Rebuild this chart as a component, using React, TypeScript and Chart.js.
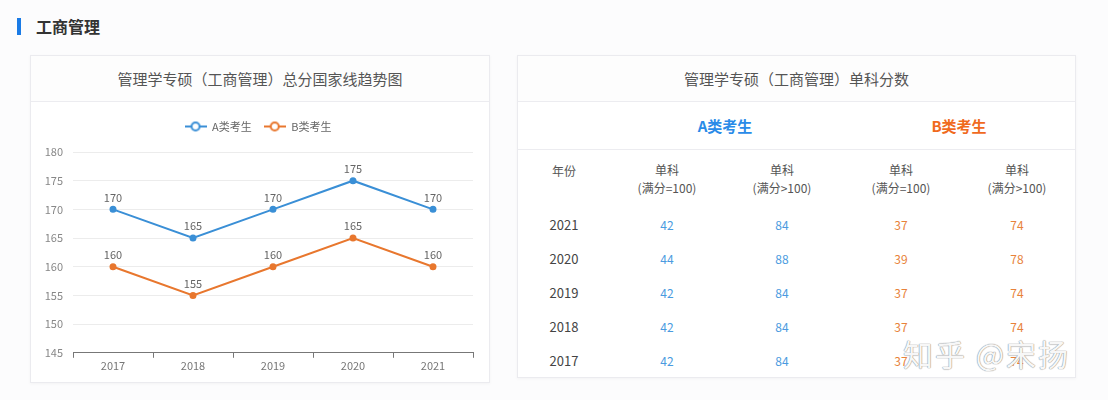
import React, { useEffect, useRef } from "react";
import { Chart, registerables } from "chart.js";

Chart.register(...registerables);

// ---------- data ----------
const years = ["2017", "2018", "2019", "2020", "2021"];
const scoreA = [170, 165, 170, 175, 170];
const scoreB = [160, 155, 160, 165, 160];
const seriesNames = ["A类考生", "B类考生"];
const yMin = 145;
const yMax = 180;
const yStep = 5;

const tableYears = ["2021", "2020", "2019", "2018", "2017"];
const aSingle100 = [42, 44, 42, 42, 42];
const aSingleOver100 = [84, 88, 84, 84, 84];
const bSingle100 = [37, 39, 37, 37, 37];
const bSingleOver100 = [74, 78, 74, 74, 74];
const tableHeaders = ["年份", "单科\n(满分=100)", "单科\n(满分>100)", "单科\n(满分=100)", "单科\n(满分>100)"];

const BLUE = "#3a8fd6";
const ORANGE = "#e8772e";
const FONT = '"Noto Sans CJK SC", "Noto Sans", sans-serif';

function legendIcon(color: string) {
  const c = document.createElement("canvas");
  c.width = 22;
  c.height = 12;
  const ctx = c.getContext("2d")!;
  ctx.strokeStyle = color;
  ctx.lineWidth = 2;
  ctx.beginPath();
  ctx.moveTo(0, 6);
  ctx.lineTo(22, 6);
  ctx.stroke();
  ctx.beginPath();
  ctx.arc(11, 6, 4, 0, Math.PI * 2);
  ctx.fillStyle = "#fff";
  ctx.fill();
  ctx.stroke();
  return c;
}

const valueLabels = {
  id: "valueLabels",
  afterDatasetsDraw(chart: any) {
    const ctx = chart.ctx;
    ctx.save();
    ctx.font = `11px ${FONT}`;
    ctx.fillStyle = "#666";
    ctx.textAlign = "center";
    ctx.textBaseline = "middle";
    chart.data.datasets.forEach((ds: any, i: number) => {
      const meta = chart.getDatasetMeta(i);
      meta.data.forEach((pt: any, j: number) => {
        ctx.fillText(String(ds.data[j]), pt.x, pt.y - 12);
      });
    });
    ctx.restore();
  },
};

const legendMargin = {
  id: "legendMargin",
  beforeInit(chart: any) {
    const orig = chart.legend.fit;
    chart.legend.fit = function () {
      orig.bind(chart.legend)();
      this.height += 10;
    };
  },
};

function LineChart() {
  const ref = useRef<HTMLCanvasElement>(null);
  useEffect(() => {
    const icons = [legendIcon(BLUE), legendIcon(ORANGE)];
    const chart = new Chart(ref.current!, {
      type: "line",
      data: {
        labels: years,
        datasets: [
          {
            label: seriesNames[0],
            data: scoreA,
            borderColor: BLUE,
            backgroundColor: BLUE,
            borderWidth: 2,
            pointRadius: 2.5,
            pointHoverRadius: 2.5,
            tension: 0,
          },
          {
            label: seriesNames[1],
            data: scoreB,
            borderColor: ORANGE,
            backgroundColor: ORANGE,
            borderWidth: 2,
            pointRadius: 2.5,
            pointHoverRadius: 2.5,
            tension: 0,
          },
        ],
      },
      options: {
        responsive: false,
        animation: false,
        layout: { padding: { left: 12, right: 16, top: 8, bottom: 11 } },
        plugins: {
          tooltip: { enabled: false },
          legend: {
            position: "top",
            labels: {
              usePointStyle: true,
              pointStyleWidth: 22,
              boxHeight: 12,
              padding: 12,
              color: "#666",
              font: { size: 11, family: FONT },
              generateLabels: (chart: any) => {
                const items = Chart.defaults.plugins.legend.labels.generateLabels(chart);
                return items.map((it: any, i: number) => ({ ...it, pointStyle: icons[i] }));
              },
            },
          },
        },
        scales: {
          x: {
            offset: true,
            grid: {
              display: true,
              drawOnChartArea: false,
              drawTicks: true,
              tickLength: 5,
              offset: true,
              color: "#777",
            },
            border: { display: true, color: "#777", width: 1 },
            ticks: { color: "#777", font: { size: 11, family: FONT }, padding: 1 },
          },
          y: {
            min: yMin,
            max: yMax,
            afterFit: (scale: any) => {
              scale.width = 30;
            },
            ticks: { stepSize: yStep, color: "#888", font: { size: 11, family: FONT }, padding: 10 },
            grid: { color: "#ececec", drawTicks: false },
            border: { display: false },
          },
        },
      },
      plugins: [valueLabels, legendMargin],
    });
    return () => chart.destroy();
  }, []);
  return <canvas ref={ref} width={458} height={283} style={{ display: "block" }} />;
}

const cardStyle: React.CSSProperties = {
  position: "absolute",
  background: "#fff",
  border: "1px solid #ebebef",
  boxShadow: "0 1px 3px rgba(0,0,0,0.04)",
  boxSizing: "border-box",
};

const titleStyle: React.CSSProperties = {
  position: "absolute",
  left: 0,
  right: 0,
  top: 0,
  height: 45,
  lineHeight: "45px",
  textAlign: "center",
  fontSize: 15,
  color: "#555",
  borderBottom: "1px solid #ececf0",
  background: "#fdfdfd",
};

function Cell({ x, y, text, color, size = 13, bold = false }: any) {
  return (
    <div
      style={{
        position: "absolute",
        left: x - 60,
        top: y,
        width: 120,
        textAlign: "center",
        transform: "translateY(-50%)",
        color,
        fontSize: size,
        fontWeight: bold ? 700 : 400,
        whiteSpace: "pre",
        lineHeight: "18px",
      }}
    >
      {text}
    </div>
  );
}

export default function App() {
  // column centers relative to right card
  const colX = [46, 149, 264, 383, 499];
  const rowY = [169, 203, 237, 271, 305];
  const cols = [aSingle100, aSingleOver100, bSingle100, bSingleOver100];
  const colColors = ["#4a9be0", "#4a9be0", "#e8823a", "#e8823a"];
  return (
    <div
      style={{
        position: "fixed",
        left: 0,
        top: 0,
        width: 1108,
        height: 400,
        background: "#fcfcfd",
        fontFamily: FONT,
        overflow: "hidden",
      }}
    >
      <div style={{ position: "absolute", left: 17, top: 18, width: 4, height: 17, background: "#1a7be6" }} />
      <div style={{ position: "absolute", left: 36, top: 15, fontSize: 16, fontWeight: 700, color: "#333", lineHeight: "22px" }}>
        工商管理
      </div>

      <div style={{ ...cardStyle, left: 30, top: 55, width: 460, height: 328 }}>
        <div style={titleStyle}>管理学专硕（工商管理）总分国家线趋势图</div>
        <div style={{ position: "absolute", left: 0, top: 45 }}>
          <LineChart />
        </div>
      </div>

      <div style={{ ...cardStyle, left: 517, top: 55, width: 559, height: 323 }}>
        <div style={titleStyle}>管理学专硕（工商管理）单科分数</div>
        <div style={{ position: "absolute", left: 0, right: 0, top: 45, height: 48, borderBottom: "1px solid #ececf0" }} />
        <Cell x={207} y={70} text={seriesNames[0]} color="#2a8be8" size={15} bold />
        <Cell x={441} y={70} text={seriesNames[1]} color="#f06a1e" size={15} bold />
        {tableHeaders.map((h, i) => (
          <Cell key={"h" + i} x={colX[i]} y={i === 0 ? 115 : 123} text={h} color="#555" size={12} />
        ))}
        {tableYears.map((yr, r) => (
          <React.Fragment key={yr}>
            <Cell x={colX[0]} y={rowY[r]} text={yr} color="#444" size={13} />
            {cols.map((c, k) => (
              <Cell key={k} x={colX[k + 1]} y={rowY[r]} text={String(c[r])} color={colColors[k]} size={12} />
            ))}
          </React.Fragment>
        ))}
      </div>

      <div
        style={{
          position: "absolute",
          left: 903,
          top: 331,
          fontSize: 30,
          color: "rgba(255,255,255,0.95)",
          textShadow: "0 0 1px #888, 0 0 1px #888",
          letterSpacing: 2,
          whiteSpace: "pre",
        }}
      >
        知乎 @宋扬
      </div>
    </div>
  );
}
